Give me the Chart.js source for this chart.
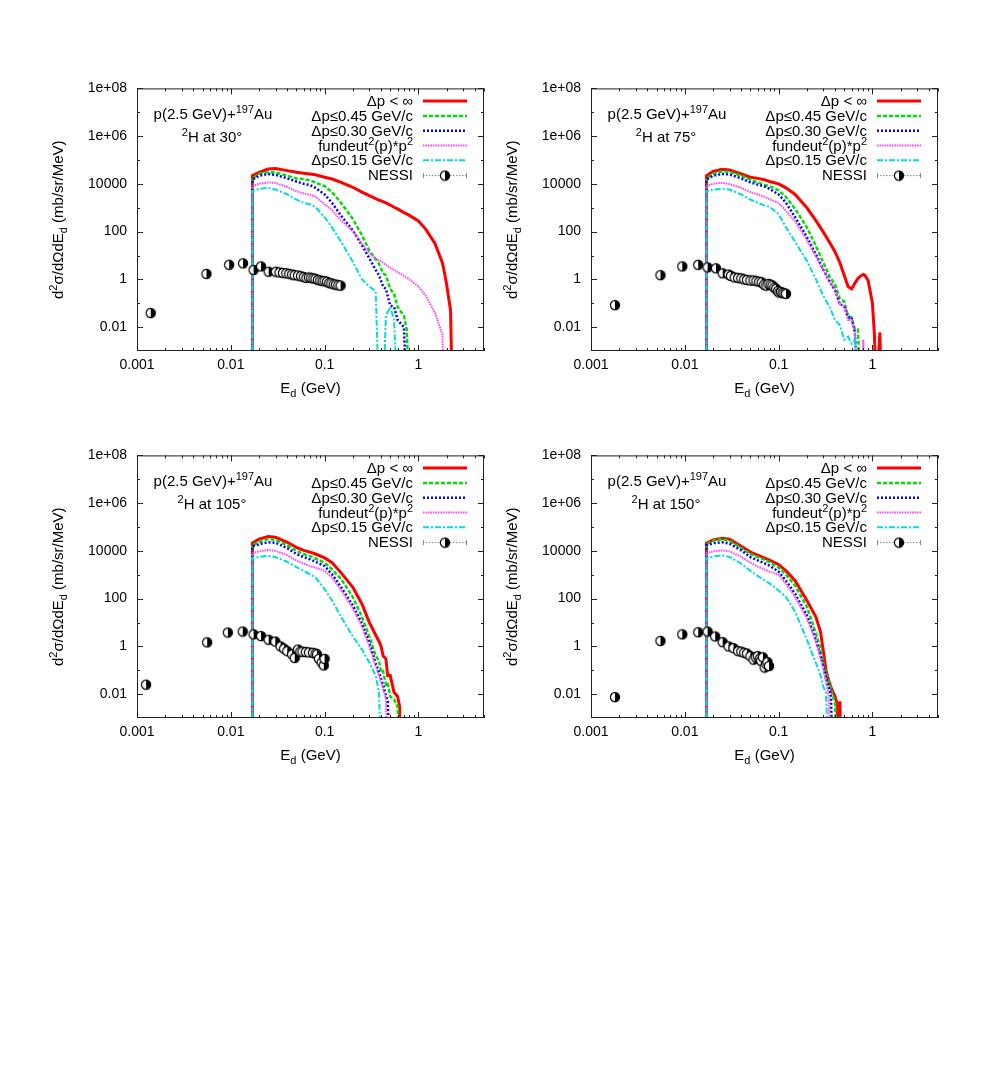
<!DOCTYPE html>
<html>
<head>
<meta charset="utf-8">
<script src="https://cdn.jsdelivr.net/npm/chart.js@4.4.1/dist/chart.umd.min.js"></script>
<style>
  body { margin: 0; background: #fff; width: 981px; height: 1090px; position: relative; overflow: hidden; }
  .panel { position: absolute; width: 450px; height: 340px; }
</style>
</head>
<body>
<div class="panel" style="left:40px;top:70px"><canvas id="p30" width="450" height="340"></canvas></div>
<div class="panel" style="left:494px;top:70px"><canvas id="p75" width="450" height="340"></canvas></div>
<div class="panel" style="left:40px;top:437px"><canvas id="p105" width="450" height="340"></canvas></div>
<div class="panel" style="left:494px;top:437px"><canvas id="p150" width="450" height="340"></canvas></div>
<script>
const FONT = '"Liberation Sans", Arial, Helvetica, sans-serif';

// axis ticks
const X_TICKS = [0.001, 0.01, 0.1, 1];
const X_LABELS = ['0.001', '0.01', '0.1', '1'];
const Y_TICKS = [0.01, 1, 100, 1e4, 1e6, 1e8];
const Y_LABELS = ['0.01', '1', '100', '10000', '1e+06', '1e+08'];
const Y_MINOR = [0.1, 10, 1000, 1e5, 1e7];

const LEGEND = ['Δp < ∞', 'Δp≤0.45 GeV/c', 'Δp≤0.30 GeV/c', 'fundeut²(p)*p²', 'Δp≤0.15 GeV/c', 'NESSI'];

// ---- 30 deg ----
const E_30 = [0.017, 0.02, 0.025, 0.03, 0.04, 0.05, 0.06, 0.07, 0.08, 0.1, 0.12, 0.15, 0.2, 0.25, 0.3, 0.35, 0.38, 0.42, 0.45, 0.5, 0.55, 0.6, 0.7, 0.75, 0.8, 1.0, 1.2, 1.5, 1.8, 1.9, 2.0, 2.2, 2.3];
const red_30 = [2.2e4, 3.0e4, 4.2e4, 4.4e4, 3.6e4, 3.1e4, 2.8e4, 2.6e4, 2.4e4, 1.9e4, 1.6e4, 1.15e4, 7.2e3, 4.5e3, 3.2e3, 2.4e3, 2.1e3, 1.8e3, 1.6e3, 1.3e3, 1.05e3, 900, 630, 560, 480, 280, 125, 32, 5, 1.8, 0.6, 0.05, 1e-5];
const green_30 = [1.7e4, 2.6e4, 3.1e4, 3.0e4, 2.2e4, 1.7e4, 1.6e4, 1.4e4, 1.15e4, 8e3, 4.5e3, 1.6e3, 340, 70, 16, 7, 4.5, 1.8, 1.5, 0.4, 0.25, 0.07, 0.03, 0.008, 1e-5];
const blue_30 = [1.5e4, 2.2e4, 2.6e4, 2.4e4, 1.7e4, 1.26e4, 1.0e4, 8.9e3, 6.8e3, 3.6e3, 1.6e3, 460, 112, 27, 7.6, 2.5, 1.5, 0.5, 0.4, 0.08, 0.07, 0.02, 0.01, 1e-5];
const magenta_30 = [8e3, 1.02e4, 1.15e4, 1.1e4, 7.4e3, 4.9e3, 4e3, 3.5e3, 2.9e3, 1.4e3, 800, 290, 105, 32, 12.5, 7.5, 6.2, 5, 4, 3, 2.5, 2, 1.4, 1.2, 1.0, 0.5, 0.2, 0.04, 0.005, 1e-5];
const cyan_30 = [4.9e3, 6.2e3, 6.8e3, 5.8e3, 3.6e3, 2.2e3, 1.6e3, 1.4e3, 1.07e3, 400, 150, 37, 5.5, 1.0, 0.5, 0.32, 1e-5, 1e-5, 0.03, 0.07, 0.02, 1e-5];
const nessiE_30 = [0.0014, 0.0055, 0.0096, 0.0135, 0.0175, 0.021, 0.0253, 0.0302, 0.033, 0.036, 0.039, 0.042, 0.045, 0.048, 0.052, 0.056, 0.06, 0.064, 0.068, 0.072, 0.076, 0.08, 0.085, 0.09, 0.095, 0.1, 0.106, 0.112, 0.118, 0.125, 0.132, 0.14, 0.148];
const nessiV_30 = [0.039, 1.7, 4.1, 4.7, 2.5, 3.5, 2.1, 2.1, 1.95, 1.85, 1.8, 1.7, 1.6, 1.5, 1.45, 1.35, 1.25, 1.15, 1.2, 1.15, 1.1, 1.05, 0.95, 0.9, 0.85, 0.85, 0.8, 0.7, 0.68, 0.62, 0.6, 0.57, 0.55];

// ---- 75 deg ----
const E_75 = [0.017, 0.02, 0.025, 0.03, 0.04, 0.05, 0.06, 0.07, 0.08, 0.1, 0.12, 0.15, 0.2, 0.25, 0.3, 0.35, 0.4, 0.45, 0.5, 0.55, 0.6, 0.65, 0.7, 0.75, 0.8, 0.83, 0.9, 1.0, 1.05, 1.1, 1.2, 1.25, 1.3];
const red_75 = [2.2e4, 3.3e4, 4.1e4, 3.8e4, 2.6e4, 1.9e4, 1.7e4, 1.5e4, 1.26e4, 1.0e4, 6.8e3, 3.6e3, 1.0e3, 290, 95, 35, 14, 5, 1.5, 0.5, 0.4, 0.7, 1.1, 1.4, 1.6, 1.5, 0.9, 0.1, 0.005, 1e-5, 0.006, 1e-5];
const green_75 = [1.7e4, 2.6e4, 3.3e4, 3.2e4, 2.2e4, 1.5e4, 1.15e4, 9.3e3, 8e3, 5.4e3, 2.8e3, 900, 150, 25, 5, 1.3, 0.6, 0.15, 0.12, 0.03, 0.025, 0.008, 0.008, 1e-5];
const blue_75 = [1.5e4, 2.2e4, 2.6e4, 2.5e4, 1.7e4, 1.15e4, 9.3e3, 7.9e3, 6.2e3, 3.6e3, 1.6e3, 400, 60, 11, 2.5, 0.8, 0.35, 0.09, 0.08, 0.025, 0.025, 0.006, 1e-5];
const magenta_75 = [8e3, 1.02e4, 1.1e4, 9.8e3, 6.8e3, 4.5e3, 3.6e3, 2.9e3, 2.3e3, 1.6e3, 740, 260, 45, 9, 2.5, 0.8, 0.35, 0.09, 0.08, 0.02, 0.02, 0.006, 1e-5, 1e-5, 0.003, 1e-5];
const cyan_75 = [4.9e3, 5.8e3, 6.3e3, 5.8e3, 3.6e3, 2.2e3, 1.6e3, 1.26e3, 1.1e3, 540, 150, 37, 6, 1, 0.2, 0.07, 0.02, 0.012, 0.003, 0.004, 0.002, 0.003, 1e-5];
const nessiE_75 = [0.0018, 0.0055, 0.0094, 0.0139, 0.0175, 0.0215, 0.0253, 0.0293, 0.031, 0.034, 0.037, 0.04, 0.043, 0.046, 0.05, 0.054, 0.058, 0.062, 0.066, 0.07, 0.074, 0.078, 0.082, 0.086, 0.09, 0.094, 0.098, 0.102, 0.106, 0.11, 0.115, 0.12];
const nessiV_75 = [0.083, 1.5, 3.5, 4.1, 3.2, 2.9, 1.8, 1.6, 1.4, 1.2, 1.15, 1.1, 1.0, 0.95, 0.9, 0.9, 0.85, 0.8, 0.75, 0.6, 0.55, 0.65, 0.6, 0.55, 0.45, 0.4, 0.32, 0.28, 0.3, 0.27, 0.26, 0.25];

// ---- 105 deg ----
const E_105 = [0.017, 0.02, 0.025, 0.03, 0.04, 0.05, 0.06, 0.07, 0.08, 0.1, 0.12, 0.15, 0.2, 0.25, 0.3, 0.35, 0.38, 0.4, 0.42, 0.45, 0.47, 0.5, 0.55, 0.6, 0.63, 0.65];
const red_105 = [2.1e4, 3.1e4, 4.0e4, 3.7e4, 2.3e4, 1.4e4, 1.05e4, 8.9e3, 7.4e3, 5.1e3, 3.2e3, 1.2e3, 300, 60, 10, 3, 1.6, 1.0, 0.4, 0.3, 0.06, 0.06, 0.012, 0.008, 0.003, 1e-5];
const green_105 = [1.8e4, 2.3e4, 3.1e4, 2.9e4, 1.7e4, 1.0e4, 7.4e3, 6.0e3, 4.8e3, 3.2e3, 1.7e3, 660, 115, 17, 2.6, 0.4, 0.25, 0.08, 0.09, 0.025, 0.03, 0.008, 0.006, 0.003, 1e-5];
const blue_105 = [1.55e4, 1.9e4, 2.3e4, 2.2e4, 1.3e4, 7.4e3, 5.5e3, 4.4e3, 3.5e3, 2.3e3, 1.05e3, 300, 52, 9, 1.4, 0.2, 0.08, 0.043, 0.025, 0.009, 0.005, 1e-5];
const magenta_105 = [8.1e3, 9.5e3, 1.1e4, 1.0e4, 6.6e3, 4.0e3, 2.9e3, 2.3e3, 2.0e3, 1.45e3, 760, 220, 38, 6.8, 1.0, 0.15, 0.06, 0.032, 0.015, 0.0065, 1e-5];
const cyan_105 = [5.1e3, 5.6e3, 6.2e3, 5.5e3, 3.5e3, 2.1e3, 1.45e3, 1.05e3, 760, 250, 83, 17, 2.6, 0.74, 0.21, 0.06, 0.012, 1e-5];
const nessiE_105 = [0.00125, 0.0056, 0.0093, 0.0134, 0.0175, 0.021, 0.0253, 0.0298, 0.034, 0.037, 0.04, 0.045, 0.048, 0.052, 0.055, 0.058, 0.063, 0.068, 0.075, 0.08, 0.083, 0.087, 0.093, 0.098, 0.1];
const nessiV_105 = [0.025, 1.48, 3.8, 4.2, 3.2, 2.7, 1.9, 1.6, 1.0, 0.8, 0.63, 0.46, 0.33, 0.74, 0.6, 0.6, 0.58, 0.56, 0.54, 0.5, 0.46, 0.3, 0.21, 0.16, 0.3];

// ---- 150 deg ----
const E_150 = [0.017, 0.02, 0.025, 0.03, 0.04, 0.05, 0.06, 0.07, 0.08, 0.1, 0.12, 0.15, 0.2, 0.25, 0.28, 0.3, 0.32, 0.34, 0.36, 0.38, 0.4, 0.42, 0.43, 0.45, 0.46];
const red_150 = [2.1e4, 2.9e4, 3.4e4, 3.1e4, 1.55e4, 8.9e3, 6.6e3, 5.1e3, 4.1e3, 2.7e3, 1.45e3, 560, 83, 17, 4, 0.6, 0.1, 0.04, 0.02, 0.012, 0.008, 0.004, 1e-5, 0.005, 1e-5];
const green_150 = [1.9e4, 2.7e4, 3.1e4, 2.6e4, 1.3e4, 7.4e3, 5.5e3, 4.3e3, 3.4e3, 2.0e3, 1.0e3, 350, 45, 3.5, 0.8, 0.2, 0.08, 0.035, 0.017, 0.008, 0.004, 1e-5];
const blue_150 = [1.7e4, 2.1e4, 2.3e4, 2.0e4, 1.05e4, 5.5e3, 4.0e3, 3.1e3, 2.4e3, 1.35e3, 560, 160, 20, 1.9, 0.4, 0.15, 0.05, 0.02, 0.01, 1e-5];
const magenta_150 = [8.1e3, 9.5e3, 1.05e4, 9.5e3, 5.6e3, 3.2e3, 2.2e3, 1.7e3, 1.35e3, 1.0e3, 410, 115, 15, 1.6, 0.35, 0.11, 0.03, 0.01, 1e-5];
const cyan_150 = [5.1e3, 5.8e3, 6.6e3, 5.6e3, 2.9e3, 1.45e3, 890, 600, 440, 220, 115, 28, 1.9, 0.2, 0.06, 0.02, 0.012, 1e-5];
const nessiE_150 = [0.0018, 0.0055, 0.0094, 0.0139, 0.0175, 0.0211, 0.0253, 0.0293, 0.033, 0.037, 0.04, 0.043, 0.046, 0.05, 0.054, 0.057, 0.06, 0.063, 0.065, 0.068, 0.071, 0.074, 0.076, 0.079];
const nessiV_150 = [0.0075, 1.7, 3.2, 3.9, 4.2, 2.6, 1.5, 1.0, 0.85, 0.63, 0.6, 0.54, 0.5, 0.39, 0.28, 0.35, 0.39, 0.3, 0.25, 0.35, 0.13, 0.18, 0.22, 0.15];

const panels = [
  { id: 'p30', angle: '30°', E: E_30, curves: [red_30, green_30, blue_30, magenta_30, cyan_30], nE: nessiE_30, nV: nessiV_30 },
  { id: 'p75', angle: '75°', E: E_75, curves: [red_75, green_75, blue_75, magenta_75, cyan_75], nE: nessiE_75, nV: nessiV_75 },
  { id: 'p105', angle: '105°', E: E_105, curves: [red_105, green_105, blue_105, magenta_105, cyan_105], nE: nessiE_105, nV: nessiV_105 },
  { id: 'p150', angle: '150°', E: E_150, curves: [red_150, green_150, blue_150, magenta_150, cyan_150], nE: nessiE_150, nV: nessiV_150 }
];

// line look of the five model curves (gnuplot-ish)
const STYLES = [
  { color: '#ff0000', width: 3, dash: [] },
  { color: '#00dd00', width: 2.5, dash: [4, 2] },
  { color: '#0000ff', width: 2.5, dash: [2, 2] },
  { color: '#ff44ff', width: 2, dash: [1.5, 1] },
  { color: '#00dddd', width: 2, dash: [6, 2, 2, 2] }
];

function halfDot() {
    const c = document.createElement('canvas');
    c.width = 12; c.height = 12;
    const g = c.getContext('2d');
    g.beginPath(); g.arc(6, 6, 4.6, 0, 2 * Math.PI); g.fillStyle = '#fff'; g.fill();
    g.beginPath(); g.arc(6, 6, 4.6, -Math.PI / 2, Math.PI / 2); g.closePath(); g.fillStyle = '#000'; g.fill();
    g.beginPath(); g.arc(6, 6, 4.6, 0, 2 * Math.PI); g.strokeStyle = '#000'; g.lineWidth = 1.2; g.stroke();
    return c;
}
const DOT = halfDot();

function labelFor(v, vals, texts) {
    const i = vals.findIndex(t => Math.abs(t - v) / t < 1e-6);
    return i >= 0 ? texts[i] : '';
}

// text with superscript / subscript pieces: [text, '' | 'sup' | 'sub']
function richText(ctx, parts, x, y, align) {
    const big = '15px ' + FONT, small = '11px ' + FONT;
    let w = 0;
    parts.forEach(([t, m]) => { ctx.font = m ? small : big; w += ctx.measureText(t).width; });
    let cx = align === 'center' ? x - w / 2 : align === 'right' ? x - w : x;
    ctx.textAlign = 'left';
    parts.forEach(([t, m]) => {
        ctx.font = m ? small : big;
        const dy = m === 'sup' ? -6 : m === 'sub' ? 4 : 0;
        ctx.fillText(t, cx, y + dy);
        cx += ctx.measureText(t).width;
    });
}

const gnuplotLook = {
    id: 'gnuplotLook',
    afterDraw(chart, args, opts) {
        const { ctx, chartArea: a } = chart;
        const sx = chart.scales.x, sy = chart.scales.y;
        ctx.save();
        ctx.strokeStyle = '#222';
        ctx.lineWidth = 1;
        ctx.setLineDash([]);

        // tick marks inside the frame, mirrored
        ctx.beginPath();
        for (let d = -3; d <= 0; d++) {
            for (let m = 1; m <= 9; m++) {
                const v = m * Math.pow(10, d);
                if (v > 5) break;
                const px = Math.round(sx.getPixelForValue(v)) + 0.5;
                const len = m === 1 ? 6 : 3;
                ctx.moveTo(px, a.bottom); ctx.lineTo(px, a.bottom - len);
                ctx.moveTo(px, a.top); ctx.lineTo(px, a.top + len);
            }
        }
        Y_TICKS.concat(Y_MINOR).forEach(v => {
            const py = Math.round(sy.getPixelForValue(v)) + 0.5;
            const len = Y_TICKS.includes(v) ? 6 : 3;
            ctx.moveTo(a.left, py); ctx.lineTo(a.left + len, py);
            ctx.moveTo(a.right, py); ctx.lineTo(a.right - len, py);
        });
        ctx.stroke();
        ctx.strokeRect(a.left + 0.5, a.top + 0.5, a.width - 1, a.height - 1);

        ctx.fillStyle = '#000';
        ctx.textBaseline = 'alphabetic';

        // axis titles
        richText(ctx, [['E', ''], ['d', 'sub'], [' (GeV)', '']], (a.left + a.right) / 2, a.bottom + 42, 'center');
        ctx.save();
        ctx.translate(17, (a.top + a.bottom) / 2);
        ctx.rotate(-Math.PI / 2);
        richText(ctx, [['d', ''], ['2', 'sup'], ['σ/dΩdE', ''], ['d', 'sub'], [' (mb/sr/MeV)', '']], 0, 6, 'center');
        ctx.restore();

        // reaction label
        richText(ctx, [['p(2.5 GeV)+', ''], ['197', 'sup'], ['Au', '']], a.left + 76, a.top + 31, 'center');
        richText(ctx, [['2', 'sup'], ['H at ' + opts.angle, '']], a.left + 75, a.top + 54, 'center');

        // legend
        const tx = a.left + 276, l0 = a.left + 286, l1 = a.left + 330;
        LEGEND.forEach((txt, i) => {
            const yc = a.top + 12.7 + i * 14.8;
            if (i === 3) {
                richText(ctx, [['fundeut', ''], ['2', 'sup'], ['(p)*p', ''], ['2', 'sup']], tx, yc + 5, 'right');
            } else {
                richText(ctx, [[txt, '']], tx, yc + 5, 'right');
            }
            if (i < 5) {
                const s = STYLES[i];
                ctx.strokeStyle = s.color;
                ctx.lineWidth = s.width;
                ctx.setLineDash(s.dash);
                ctx.beginPath(); ctx.moveTo(l0, yc); ctx.lineTo(l1, yc); ctx.stroke();
            } else {
                ctx.strokeStyle = '#888';
                ctx.lineWidth = 1;
                ctx.setLineDash([1.5, 1.5]);
                ctx.beginPath(); ctx.moveTo(l0, yc + 0.5); ctx.lineTo(l1, yc + 0.5); ctx.stroke();
                ctx.setLineDash([]);
                ctx.beginPath();
                ctx.moveTo(l0 + 0.5, yc - 2); ctx.lineTo(l0 + 0.5, yc + 3);
                ctx.moveTo(l1 - 0.5, yc - 2); ctx.lineTo(l1 - 0.5, yc + 3);
                ctx.stroke();
                ctx.drawImage(DOT, (l0 + l1) / 2 - 6, yc - 5.5);
            }
        });
        ctx.restore();
    }
};

Chart.defaults.font.family = FONT;
Chart.defaults.font.size = 14;
Chart.defaults.color = '#000';

function curvePoints(E, vals) {
    // vertical rise at the first energy from below the axis
    const pts = [{ x: E[0], y: 1e-5 }];
    vals.forEach((v, i) => pts.push({ x: E[i], y: v }));
    return pts;
}

panels.forEach(p => {
    const datasets = p.curves.map((vals, i) => ({
        label: LEGEND[i],
        data: curvePoints(p.E, vals),
        showLine: true,
        borderColor: STYLES[i].color,
        borderWidth: STYLES[i].width,
        borderDash: STYLES[i].dash,
        pointRadius: 0,
        tension: 0,
        clip: 0,
        order: 5 - i
    }));
    datasets.push({
        label: 'NESSI',
        data: p.nE.map((e, i) => ({ x: e, y: p.nV[i] })),
        showLine: false,
        pointStyle: DOT,
        pointRadius: 5,
        clip: 0,
        order: 0
    });

    new Chart(document.getElementById(p.id), {
        type: 'scatter',
        data: { datasets },
        options: {
            responsive: false,
            animation: false,
            layout: { padding: { top: 14, right: 6, left: 0, bottom: 0 } },
            plugins: {
                legend: { display: false },
                tooltip: { enabled: false },
                gnuplotLook: { angle: p.angle }
            },
            scales: {
                x: {
                    type: 'logarithmic',
                    min: 0.001,
                    max: 5,
                    grid: { display: false, drawTicks: false },
                    border: { display: false },
                    afterBuildTicks: s => { s.ticks = X_TICKS.map(v => ({ value: v })); },
                    afterFit: s => { s.height = 59; },
                    ticks: { autoSkip: false, maxRotation: 0, padding: 6, callback: v => labelFor(v, X_TICKS, X_LABELS) }
                },
                y: {
                    type: 'logarithmic',
                    min: 0.001,
                    max: 1e8,
                    grid: { display: false, drawTicks: false },
                    border: { display: false },
                    afterBuildTicks: s => { s.ticks = Y_TICKS.map(v => ({ value: v })); },
                    afterFit: s => { s.width = 97; },
                    ticks: { autoSkip: false, padding: 10, callback: v => labelFor(v, Y_TICKS, Y_LABELS) }
                }
            }
        },
        plugins: [gnuplotLook]
    });
});
</script>
</body>
</html>
